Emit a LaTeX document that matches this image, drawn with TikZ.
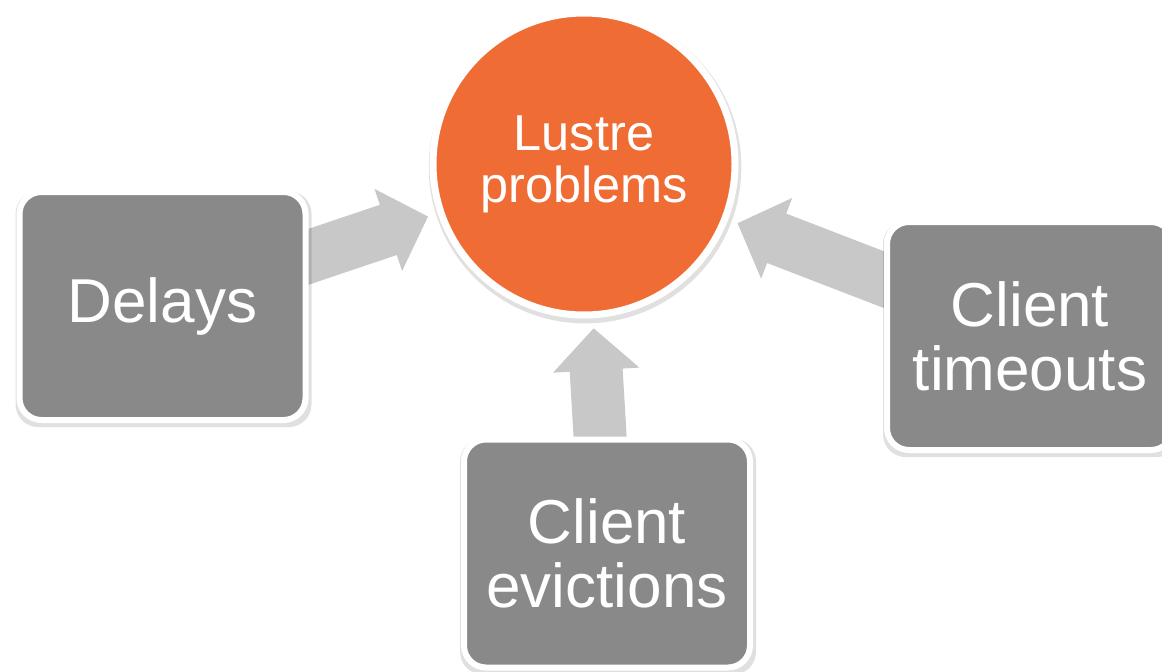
\documentclass[tikz,border=0pt]{standalone}
\usepackage{fontspec}
\setmainfont{Liberation Sans}
\usetikzlibrary{arrows.meta,shadows}
\definecolor{boxgray}{HTML}{898989}
\definecolor{arrowgray}{HTML}{C8C8C8}
\definecolor{lustreorange}{HTML}{EF6C35}
\pgfdeclarelayer{background}
\pgfsetlayers{background,main}
\begin{document}
\begin{tikzpicture}[x=1pt,y=-1pt,
  softshadow/.style={general shadow={fill=black, opacity=0.12, shadow scale=1.035, shadow xshift=1pt, shadow yshift=-3pt}},
  box/.style={rectangle, rounded corners=22pt, fill=boxgray, draw=white, line width=6pt,
    minimum width=286pt, minimum height=228pt, text=white, align=center,
    font=\fontsize{62}{64}\selectfont, inner sep=0pt, softshadow},
  hub/.style={circle, fill=lustreorange, draw=white, line width=7pt, minimum size=302pt,
    text=white, align=center, font=\fontsize{50.5}{52}\selectfont, inner sep=0pt, softshadow},
  feed/.style={draw=arrowgray, line width=53pt, -{Triangle[width=84pt,length=42pt]}, shorten >=10pt}]
\useasboundingbox (0,0) rectangle (1162,672);
\clip (0,0) rectangle (1162,672);
\node[hub] (lustre) at (584,164) {Lustre\\problems};
\node[box] (delays) at (162.5,306) {Delays};
\node[box] (evict) at (607,553.5) {Client\\evictions};
\node[box] (timeout) at (1030,336) {Client\\timeouts};
\begin{pgfonlayer}{background}
\draw[feed] (delays.center) -- (lustre);
\draw[feed] (evict.center) -- (lustre);
\draw[feed] (timeout.center) -- (lustre);
\end{pgfonlayer}
\end{tikzpicture}
\end{document}
